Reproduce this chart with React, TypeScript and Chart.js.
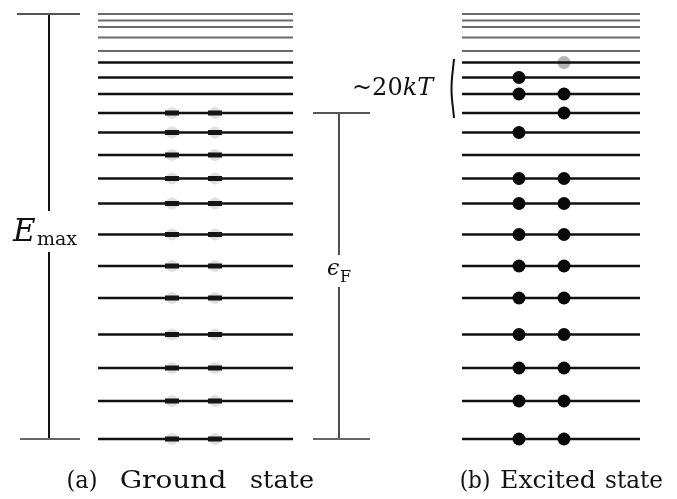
import React, { useEffect, useRef } from "react";
import { Chart, registerables } from "chart.js";

Chart.register(...registerables);

// ---- data (energies measured from the bottom level, arbitrary units) ----
const levelEnergies = [0, 38, 71, 104.5, 141, 173, 204.5, 235.5, 260.5, 284, 306.5, 326, 345, 361.5, 376.5, 388, 401.5, 412, 418.5, 425];
// ground state: each level up to the Fermi level holds two electrons
const groundLeft = [1, 1, 1, 1, 1, 1, 1, 1, 1, 1, 1, 1, 0, 0, 0, 0, 0, 0, 0, 0];
const groundRight = [1, 1, 1, 1, 1, 1, 1, 1, 1, 1, 1, 1, 0, 0, 0, 0, 0, 0, 0, 0];
// excited state occupation (0.5 = faint dot)
const excitedLeft = [1, 1, 1, 1, 1, 1, 1, 1, 1, 0, 1, 0, 1, 1, 0, 0, 0, 0, 0, 0];
const excitedRight = [1, 1, 1, 1, 1, 1, 1, 1, 1, 0, 0, 1, 1, 0, 0.5, 0, 0, 0, 0, 0];
const fermiEnergy = 326;
const maxEnergy = 425;
const kTRange = [321, 380];
const captionA = ["(a)", "Ground", "state"];
const captionB = ["(b)", "Excited", "state"];

// ---- layout ----
const W = 677;
const H = 499;
const panelA = { x1: 98, x2: 293, dots: [172, 215] };
const panelB = { x1: 462, x2: 640, dots: [519, 564] };
const capAPos = [[68, 28], [117, 112], [250, 64]];
const capBPos = [[461, 28], [500, 96], [605, 58]];

function hline(x1: number, x2: number, y: number, color: string, width: number) {
  return {
    showLine: true,
    data: [{ x: x1, y }, { x: x2, y }],
    borderColor: color,
    borderWidth: width,
    pointRadius: 0,
    order: 3,
  };
}
function vline(x: number, y1: number, y2: number, color: string, width: number) {
  return {
    showLine: true,
    data: [{ x, y: y1 }, { x, y: y2 }],
    borderColor: color,
    borderWidth: width,
    pointRadius: 0,
    order: 3,
  };
}

// draw a word so that it roughly fills [x, x+width], with a gentle horizontal scale
function fitText(ctx: any, text: string, x: number, width: number, y: number) {
  const w = ctx.measureText(text).width;
  const s = Math.max(0.9, Math.min(1.12, width / w));
  const cx = x + width / 2;
  ctx.save();
  ctx.translate(cx, y);
  ctx.scale(s, 1);
  ctx.textAlign = "center";
  ctx.fillText(text, 0, 0);
  ctx.restore();
}

const annotPlugin = {
  id: "annot",
  afterDraw(chart: any) {
    const ctx = chart.ctx;
    const ys = chart.scales.y;
    ctx.save();
    ctx.fillStyle = "#111";
    ctx.textBaseline = "alphabetic";
    // E_max
    ctx.font = 'italic 31px "DejaVu Serif"';
    ctx.fillText("E", 13, 241);
    ctx.font = '19px "DejaVu Serif"';
    ctx.fillText("max", 37, 245);
    // epsilon_F
    ctx.font = 'italic 22px "DejaVu Serif"';
    ctx.fillText("\u03F5", 327, 275);
    ctx.font = '16px "DejaVu Serif"';
    ctx.fillText("F", 340, 282);
    // ~20kT
    const kTy = (ys.getPixelForValue(kTRange[0]) + ys.getPixelForValue(kTRange[1])) / 2;
    ctx.font = '24px "DejaVu Serif"';
    ctx.fillText("~20", 352, kTy + 6);
    const w = ctx.measureText("~20").width;
    ctx.font = 'italic 24px "DejaVu Serif"';
    ctx.fillText("kT", 352 + w, kTy + 6);
    // captions
    ctx.font = '25px "DejaVu Serif"';
    captionA.forEach((t, i) => fitText(ctx, t, capAPos[i][0], capAPos[i][1], 488));
    ctx.font = '24px "DejaVu Serif"';
    captionB.forEach((t, i) => fitText(ctx, t, capBPos[i][0], capBPos[i][1], 488));
    ctx.restore();
  },
};

export default function App() {
  const ref = useRef<HTMLCanvasElement | null>(null);
  useEffect(() => {
    document.body.style.margin = "0";
    const datasets: any[] = [];
    levelEnergies.forEach((E) => {
      const top = E >= 388;
      const color = top ? "#6a6a6a" : "#111";
      const width = top ? 2 : 2.5;
      datasets.push(hline(panelA.x1, panelA.x2, E, color, width));
      datasets.push(hline(panelB.x1, panelB.x2, E, color, width));
    });
    // E_max bracket
    datasets.push(hline(17, 80, maxEnergy, "#555", 2));
    datasets.push(hline(20, 80, 0, "#666", 2));
    datasets.push(vline(49, maxEnergy, 228, "#111", 2));
    datasets.push(vline(49, 187, 0, "#111", 2));
    // Fermi bracket
    datasets.push(hline(313, 370, fermiEnergy, "#555", 2));
    datasets.push(hline(313, 370, 0, "#666", 2));
    datasets.push(vline(339, fermiEnergy, 184, "#222", 1.6));
    datasets.push(vline(339, 152, 0, "#222", 1.6));
    // ~20kT bracket
    datasets.push({
      showLine: true,
      data: [
        { x: 454, y: kTRange[1] },
        { x: 451.5, y: (kTRange[0] + kTRange[1]) / 2 },
        { x: 454, y: kTRange[0] },
      ],
      borderColor: "#111",
      borderWidth: 2,
      tension: 0.4,
      pointRadius: 0,
      order: 3,
    });
    // ground state electrons
    const gPts: any[] = [];
    levelEnergies.forEach((E, i) => {
      if (groundLeft[i]) gPts.push({ x: panelA.dots[0], y: E });
      if (groundRight[i]) gPts.push({ x: panelA.dots[1], y: E });
    });
    datasets.push({
      data: gPts,
      pointStyle: "circle",
      pointRadius: 6,
      pointBackgroundColor: "rgba(0,0,0,0.12)",
      pointBorderWidth: 0,
      order: 2,
    });
    datasets.push({
      data: gPts,
      pointStyle: "line",
      pointRadius: 7,
      pointBorderWidth: 5,
      pointBorderColor: "#151515",
      order: 1,
    });
    // excited state electrons
    const ePts: any[] = [];
    const eCol: string[] = [];
    levelEnergies.forEach((E, i) => {
      if (excitedLeft[i]) {
        ePts.push({ x: panelB.dots[0], y: E });
        eCol.push(`rgba(10,10,10,${excitedLeft[i] < 1 ? 0.3 : 1})`);
      }
      if (excitedRight[i]) {
        ePts.push({ x: panelB.dots[1], y: E });
        eCol.push(`rgba(10,10,10,${excitedRight[i] < 1 ? 0.3 : 1})`);
      }
    });
    datasets.push({
      data: ePts,
      pointStyle: "circle",
      pointRadius: 6.5,
      pointBackgroundColor: eCol,
      pointBorderWidth: 0,
      order: 1,
    });

    const chart = new Chart(ref.current as HTMLCanvasElement, {
      type: "scatter",
      data: { datasets },
      options: {
        animation: false,
        responsive: false,
        devicePixelRatio: 1,
        layout: { padding: 0, autoPadding: false },
        plugins: { legend: { display: false }, tooltip: { enabled: false } },
        events: [],
        scales: {
          x: { type: "linear", min: 0, max: W, display: false },
          y: { type: "linear", min: -60, max: 439, display: false },
        },
      },
      plugins: [annotPlugin],
    });
    return () => chart.destroy();
  }, []);
  return (
    <div style={{ width: W, height: H, background: "#fff" }}>
      <canvas ref={ref} width={W} height={H} style={{ display: "block" }} />
    </div>
  );
}
